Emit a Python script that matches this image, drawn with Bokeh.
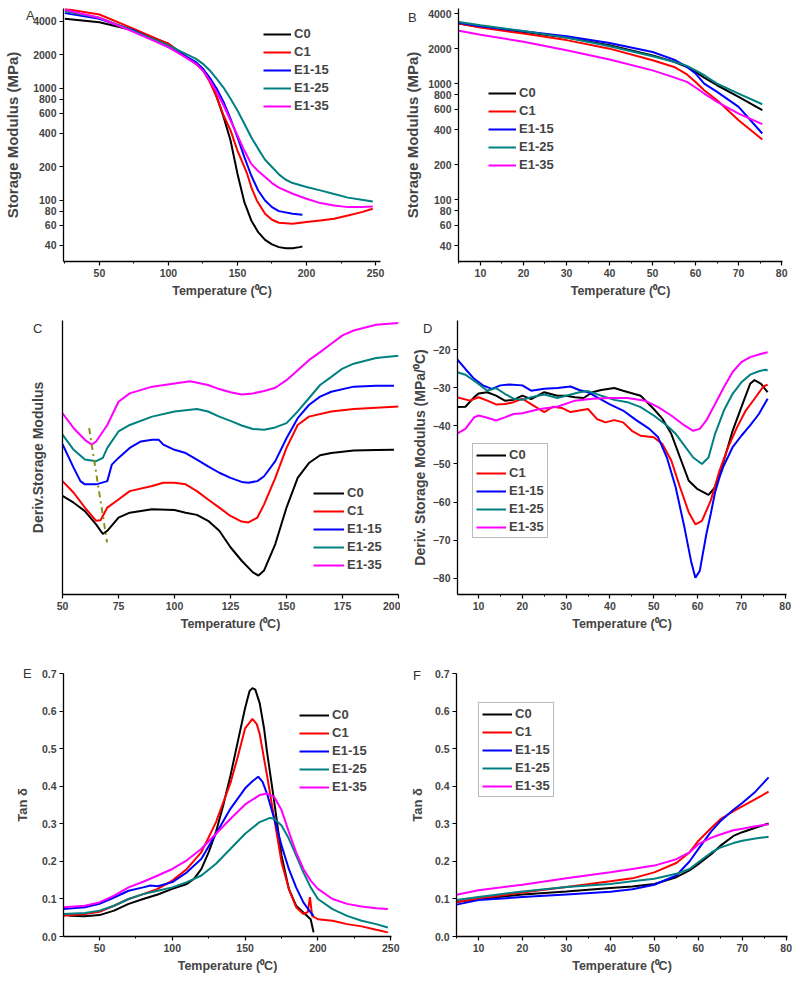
from bokeh.plotting import figure
from bokeh.layouts import column, row
from bokeh.models import (FixedTicker, SingleIntervalTicker, BasicTickFormatter,
                          PrintfTickFormatter, Range1d)
from bokeh.embed import file_html
from bokeh.resources import INLINE

FONT = "Liberation Sans"
series = ["C0", "C1", "E1-15", "E1-25", "E1-35"]
colors = ["#000000", "#ff0000", "#0000ff", "#008080", "#ff00ff"]
xlabel = "Temperature (\u2070C)"

# ---------------- Panel A : storage modulus, full range ----------------
A_C0_T = [25, 50, 75, 100, 110, 120, 125, 130, 135, 140, 145, 150, 155, 160, 165, 170, 175, 180, 185, 190, 195, 197]
A_C0_E = [4190, 3910, 3300, 2510, 2040, 1660, 1500, 1180, 837, 555, 343, 173, 96.6, 66.3, 52.1, 44.5, 40.5, 38.3, 37.5, 37.5, 38.3, 38.8]
A_C1_T = [25, 50, 75, 100, 110, 120, 125, 130, 135, 140, 145, 150, 155, 157, 160, 164, 170, 175, 180, 190, 200, 210, 220, 230, 240, 248]
A_C1_E = [5140, 4580, 3410, 2506, 2040, 1660, 1448, 1140, 837, 574, 422, 279, 199, 173, 131.6, 100, 76.1, 67.2, 63.2, 61.9, 64.1, 66.3, 68.6, 73.5, 78.7, 84.4]
A_E15_T = [25, 50, 75, 100, 110, 120, 125, 130, 135, 140, 145, 150, 155, 160, 165, 170, 175, 180, 190, 197]
A_E15_E = [4710, 4190, 3296, 2340, 2014, 1719, 1500, 1245, 993, 755, 536, 367, 244, 167, 122.8, 100, 87.2, 80.3, 76.1, 74.5]
A_E25_T = [25, 50, 75, 100, 110, 120, 125, 130, 135, 140, 145, 150, 155, 160, 165, 170, 175, 180, 185, 190, 200, 210, 220, 230, 240, 248]
A_E25_E = [4900, 4280, 3250, 2420, 2110, 1840, 1660, 1448, 1220, 1014, 809, 637, 484, 367, 289, 231, 199, 171, 153, 143, 132, 123, 114, 106, 101.4, 98]
A_E35_T = [25, 50, 75, 100, 110, 120, 125, 130, 135, 140, 145, 150, 155, 160, 165, 170, 175, 180, 190, 200, 210, 220, 230, 240, 248]
A_E35_E = [5040, 4280, 3185, 2340, 1972, 1660, 1448, 1178, 927, 705, 518, 380, 279, 212, 183, 162, 143, 130, 114.7, 103.5, 94.7, 90.2, 87.2, 87.2, 88.4]

# ---------------- Panel B : storage modulus, low range ----------------
B_T = [5, 10, 20, 30, 40, 50, 55, 58, 60, 62, 65, 70, 75.5]
B_C0 = [3290, 3080, 2790, 2490, 2140, 1750, 1540, 1390, 1260, 1127, 967, 767, 589]
B_C1 = [3290, 3040, 2700, 2370, 2000, 1590, 1390, 1200, 1030, 876, 718, 483, 329]
B_E15 = [3340, 3120, 2820, 2560, 2240, 1870, 1610, 1390, 1220, 1000, 847, 630, 371]
B_E25 = [3400, 3180, 2840, 2490, 2100, 1720, 1540, 1420, 1300, 1180, 1000, 820, 663]
B_E35 = [2850, 2640, 2290, 1940, 1610, 1300, 1130, 1033, 925, 820, 695, 551, 447]

# ---------------- Panel C : derivative (arbitrary units, offset) ----------------
C_C0_T = [50, 55, 60, 65, 68, 70, 75, 80, 90, 100, 105, 110, 115, 120, 125, 130, 135, 137.5, 140, 145, 150, 155, 160, 165, 170, 180, 190, 198]
C_C0_V = [35.0, 32.5, 29.4, 24.5, 20.9, 22.1, 27.0, 28.8, 30.1, 29.8, 28.8, 28.0, 25.8, 22.1, 16.0, 11.0, 6.7, 5.5, 7.4, 17.2, 30.7, 41.7, 47.2, 50.1, 50.9, 51.8, 52.0, 52.1]
C_C1_T = [50, 55, 60, 65, 67, 70, 75, 80, 90, 95, 100, 105, 110, 115, 120, 125, 130, 133, 137, 140, 145, 150, 155, 160, 170, 180, 190, 200]
C_C1_V = [40.5, 36.2, 30.7, 25.8, 26.0, 30.7, 33.7, 36.8, 38.7, 39.9, 39.9, 39.3, 36.8, 33.7, 30.7, 27.6, 25.5, 25.2, 27.0, 31.9, 41.7, 52.8, 61.3, 64.4, 66.3, 67.2, 67.7, 68.1]
C_E15_T = [50, 55, 58, 60, 65, 70, 72, 75, 80, 85, 90, 93, 95, 100, 105, 110, 115, 120, 125, 130, 133, 137, 140, 145, 150, 155, 160, 165, 170, 180, 190, 198]
C_E15_V = [54.2, 45.4, 40.5, 39.3, 39.3, 40.5, 46.6, 49.1, 52.8, 55.2, 55.8, 55.8, 54.0, 52.1, 50.9, 48.5, 46.0, 43.6, 41.7, 40.2, 39.9, 40.5, 42.3, 47.9, 56.4, 63.8, 68.7, 71.8, 73.6, 75.5, 75.8, 75.8]
C_E25_T = [50, 55, 60, 65, 68, 70, 75, 80, 90, 100, 110, 115, 120, 125, 130, 135, 140, 145, 150, 155, 160, 165, 170, 175, 180, 190, 200]
C_E25_V = [57.7, 52.1, 48.5, 47.9, 49.1, 52.8, 58.9, 61.3, 64.4, 66.3, 67.2, 66.3, 64.4, 62.8, 61.1, 59.8, 59.5, 60.4, 62.0, 66.3, 71.2, 76.1, 79.1, 82.2, 84.0, 86.1, 86.9]
C_E35_T = [50, 55, 60, 63, 65, 70, 75, 80, 90, 100, 107, 115, 120, 125, 130, 135, 140, 145, 150, 155, 160, 165, 170, 175, 180, 190, 200]
C_E35_V = [65.6, 60.1, 55.8, 54.0, 55.2, 61.3, 69.9, 73.0, 75.5, 76.7, 77.5, 76.1, 74.6, 73.4, 72.6, 73.0, 73.9, 75.1, 77.9, 81.6, 85.3, 88.3, 91.4, 94.5, 96.3, 98.4, 99.1]
C_guide_T = [61.9, 69.9]
C_guide_V = [60.1, 17.8]

# ---------------- Panel D : derivative, low range ----------------
D_C0_T = [5, 7, 9, 10, 12, 14, 16, 18, 20, 22, 25, 28, 30, 32, 34, 36, 38, 41, 43, 47, 50, 52, 54, 56, 58, 60, 62.5, 64, 66, 68, 70, 72, 73, 74.5, 76]
D_C0_V = [-35.1, -35.0, -32.5, -31.5, -31.2, -32.1, -33.4, -33.2, -32.1, -33.0, -31.2, -32.1, -32.1, -32.5, -32.7, -31.2, -30.6, -30.1, -30.8, -32.1, -35.6, -38.2, -42.1, -48.3, -54.4, -56.6, -58.1, -56.1, -49.1, -41.3, -35.1, -29.0, -28.0, -29.0, -31.2]
D_C1_T = [5, 8, 10, 12, 14, 16, 18, 20, 22, 25, 27, 29, 31, 33, 35, 37, 39, 41, 43, 45, 47, 50, 52, 54, 56, 58, 59.5, 61, 63, 65, 67, 69, 71, 73, 75, 76]
D_C1_V = [-32.5, -33.4, -32.5, -33.4, -34.4, -34.3, -33.8, -32.9, -34.3, -36.4, -35.0, -35.3, -36.4, -36.0, -35.6, -38.2, -39.1, -38.5, -39.1, -41.3, -42.6, -43.0, -44.8, -49.1, -56.1, -62.7, -65.8, -64.9, -59.6, -51.8, -45.6, -40.4, -36.0, -32.9, -29.7, -29.2]
D_E15_T = [5, 7, 9, 11, 13, 15, 17, 20, 22, 25, 28, 31, 33, 35, 37, 40, 43, 46, 49, 51, 53, 55, 57, 58.5, 59.5, 60.5, 62, 63, 64, 65, 66, 68, 70, 72, 74, 76]
D_E15_V = [-22.4, -25.1, -27.7, -29.4, -30.3, -29.4, -29.2, -29.4, -30.8, -30.3, -30.1, -29.7, -30.6, -31.2, -32.5, -34.4, -36.0, -38.5, -40.8, -43.0, -48.3, -56.1, -66.6, -75.4, -79.8, -78.0, -68.4, -63.1, -57.4, -53.5, -50.4, -45.6, -42.6, -39.9, -36.9, -32.9]
D_E25_T = [5, 7, 8, 10, 12, 14, 16, 18, 20, 22, 25, 28, 30, 33, 35, 38, 41, 44, 47, 50, 53, 55, 57, 59, 61, 62.5, 64, 66, 68, 70, 72, 74, 75.5, 76]
D_E25_V = [-25.9, -26.6, -27.4, -29.0, -30.8, -30.1, -31.6, -32.9, -33.2, -32.5, -31.8, -32.7, -32.1, -31.2, -30.9, -32.1, -33.2, -33.8, -35.1, -37.3, -39.9, -42.1, -45.2, -48.3, -50.0, -48.3, -42.1, -36.0, -31.6, -28.6, -26.6, -25.7, -25.3, -25.5]
D_E35_T = [5, 7, 9, 10, 12, 14, 16, 18, 20, 24, 28, 32, 36, 40, 44, 48, 51, 54, 57, 59, 60.5, 62, 64, 66, 68, 70, 72, 74, 76]
D_E35_V = [-42.1, -40.8, -37.8, -37.3, -37.9, -38.6, -37.8, -36.9, -36.7, -35.6, -35.0, -33.4, -32.9, -32.7, -32.7, -33.4, -35.1, -37.3, -39.9, -41.3, -40.8, -38.6, -34.3, -29.9, -25.9, -23.3, -22.0, -21.3, -20.7]

# ---------------- Panel E : tan delta, full range ----------------
E_C0_T = [25, 30, 40, 50, 60, 70, 80, 90, 100, 110, 115, 120, 125, 130, 135, 140, 145, 150, 153, 155, 157, 160, 163, 165, 170, 175, 180, 185, 190, 195, 197]
E_C0_V = [0.060, 0.055, 0.054, 0.057, 0.069, 0.087, 0.100, 0.112, 0.127, 0.140, 0.154, 0.180, 0.225, 0.279, 0.350, 0.430, 0.520, 0.609, 0.654, 0.662, 0.658, 0.622, 0.555, 0.493, 0.359, 0.216, 0.127, 0.082, 0.064, 0.046, 0.011]
E_C1_T = [25, 40, 50, 60, 70, 80, 90, 100, 110, 120, 130, 140, 145, 150, 155, 158, 160, 165, 170, 175, 180, 185, 190, 193, 194.5, 196, 200, 210, 220, 230, 240, 248]
E_C1_V = [0.055, 0.060, 0.066, 0.082, 0.100, 0.113, 0.127, 0.149, 0.180, 0.225, 0.305, 0.410, 0.480, 0.555, 0.580, 0.566, 0.540, 0.430, 0.314, 0.198, 0.127, 0.078, 0.060, 0.065, 0.105, 0.055, 0.046, 0.042, 0.033, 0.027, 0.018, 0.011]
E_E15_T = [25, 40, 50, 60, 70, 80, 85, 90, 100, 110, 120, 130, 140, 150, 155, 159, 162, 165, 170, 175, 180, 185, 190, 195, 197]
E_E15_V = [0.073, 0.078, 0.087, 0.104, 0.122, 0.131, 0.136, 0.134, 0.145, 0.171, 0.207, 0.274, 0.341, 0.395, 0.414, 0.426, 0.412, 0.381, 0.314, 0.243, 0.180, 0.131, 0.091, 0.064, 0.055]
E_E25_T = [25, 40, 50, 60, 70, 80, 90, 100, 110, 120, 130, 140, 150, 160, 167, 170, 175, 180, 185, 190, 195, 200, 210, 220, 230, 240, 248]
E_E25_V = [0.060, 0.0625, 0.069, 0.082, 0.100, 0.113, 0.122, 0.131, 0.145, 0.1625, 0.194, 0.234, 0.274, 0.305, 0.316, 0.314, 0.296, 0.261, 0.216, 0.171, 0.131, 0.100, 0.073, 0.055, 0.042, 0.033, 0.024]
E_E35_T = [25, 40, 50, 60, 70, 80, 90, 100, 110, 120, 130, 140, 150, 160, 165, 170, 175, 180, 185, 190, 195, 200, 210, 220, 230, 240, 248]
E_E35_V = [0.078, 0.082, 0.091, 0.109, 0.131, 0.146, 0.1625, 0.180, 0.203, 0.234, 0.274, 0.314, 0.352, 0.377, 0.381, 0.372, 0.337, 0.279, 0.225, 0.180, 0.149, 0.127, 0.100, 0.087, 0.080, 0.075, 0.073]

# ---------------- Panel F : tan delta, low range ----------------
F_T = [5, 10, 20, 30, 40, 45, 50, 55, 58, 60, 63, 65, 68, 70, 73, 76]
F_C0 = [0.092, 0.099, 0.112, 0.120, 0.129, 0.133, 0.140, 0.158, 0.176, 0.193, 0.220, 0.2415, 0.268, 0.278, 0.290, 0.301]
F_C1 = [0.092, 0.101, 0.117, 0.132, 0.147, 0.155, 0.171, 0.196, 0.224, 0.2547, 0.290, 0.312, 0.334, 0.347, 0.366, 0.386]
F_E15 = [0.085, 0.097, 0.105, 0.112, 0.119, 0.126, 0.138, 0.1625, 0.200, 0.233, 0.281, 0.307, 0.338, 0.356, 0.386, 0.424]
F_E25 = [0.097, 0.105, 0.120, 0.132, 0.140, 0.147, 0.154, 0.167, 0.180, 0.198, 0.224, 0.237, 0.249, 0.255, 0.261, 0.266]
F_E35 = [0.1115, 0.123, 0.138, 0.155, 0.171, 0.180, 0.189, 0.206, 0.224, 0.246, 0.2635, 0.272, 0.283, 0.287, 0.294, 0.299]

log_ticks = [40, 60, 80, 100, 200, 400, 600, 800, 1000, 2000, 4000]
tan_ticks = [0.0, 0.1, 0.2, 0.3, 0.4, 0.5, 0.6, 0.7]
d_ticks = [-80, -70, -60, -50, -40, -30, -20]


def make_fig(w, h, xr, yr, bl, br, bt, bb, ylog=False):
    p = figure(width=w, height=h, x_range=Range1d(*xr), y_range=Range1d(*yr),
               y_axis_type="log" if ylog else "linear",
               output_backend="svg", toolbar_location=None,
               min_border_left=bl, min_border_right=br,
               min_border_top=bt, min_border_bottom=bb)
    p.outline_line_color = None
    p.xgrid.visible = False
    p.ygrid.visible = False
    for ax in (p.xaxis[0], p.yaxis[0]):
        ax.axis_line_width = 1.3
        ax.major_tick_in = 0
        ax.major_tick_out = 4
        ax.minor_tick_in = 0
        ax.minor_tick_out = 2
        ax.major_tick_line_width = 1.2
        ax.major_label_text_font = FONT
        ax.major_label_text_font_style = "bold"
        ax.major_label_text_font_size = "10.5px"
        ax.major_label_standoff = 3
        ax.axis_label_text_font = FONT
        ax.axis_label_text_font_style = "bold"
    p.xaxis[0].axis_label = xlabel
    p.xaxis[0].axis_label_text_font_size = "12.5px"
    p.xaxis[0].axis_label_standoff = 4
    return p


def add_lines(p, xs, ys):
    for x, y, c, n in zip(xs, ys, colors, series):
        p.line(x, y, line_color=c, line_width=2, legend_label=n)


def style_legend(p, loc, border, glyph_w=28, pad=4):
    lg = p.legend[0]
    lg.location = loc
    lg.label_text_font = FONT
    lg.label_text_font_style = "bold"
    lg.label_text_font_size = "13px"
    lg.label_height = 14
    lg.glyph_height = 14
    lg.glyph_width = glyph_w
    lg.spacing = 3
    lg.padding = pad
    lg.margin = 0
    lg.label_standoff = 3
    if border:
        lg.border_line_color = "#777777"
        lg.border_line_width = 1
        lg.background_fill_color = "white"
    else:
        lg.border_line_color = None
        lg.background_fill_alpha = 0


def letter(p, txt, offset, standoff):
    t = p.title
    t.text = txt
    t.align = "left"
    t.offset = offset
    t.standoff = standoff
    t.text_font = FONT
    t.text_font_style = "normal"
    t.text_font_size = "13px"
    t.text_color = "#333333"


# Panel A
pA = make_fig(400, 303, (24, 253.6), (28.5, 5180), 63, 20, 8, 42, ylog=True)
add_lines(pA, [A_C0_T, A_C1_T, A_E15_T, A_E25_T, A_E35_T], [A_C0_E, A_C1_E, A_E15_E, A_E25_E, A_E35_E])
pA.xaxis[0].ticker = SingleIntervalTicker(interval=50, num_minor_ticks=2)
pA.yaxis[0].ticker = FixedTicker(ticks=log_ticks, minor_ticks=[])
pA.yaxis[0].formatter = BasicTickFormatter(use_scientific=False)
pA.yaxis[0].axis_label = "Storage Modulus (MPa)"
pA.yaxis[0].axis_label_text_font_size = "15px"
pA.yaxis[0].axis_label_standoff = 9
style_legend(pA, (200, 148), False)
letter(pA, "A", -37.5, -28)

# Panel B
pB = make_fig(400, 303, (4.9, 80.2), (29.2, 4440), 58, 18, 8, 42, ylog=True)
add_lines(pB, [B_T] * 5, [B_C0, B_C1, B_E15, B_E25, B_E35])
pB.xaxis[0].ticker = SingleIntervalTicker(interval=10, num_minor_ticks=2)
pB.yaxis[0].ticker = FixedTicker(ticks=log_ticks, minor_ticks=[])
pB.yaxis[0].formatter = BasicTickFormatter(use_scientific=False)
pB.yaxis[0].axis_label = "Storage Modulus (MPa)"
pB.yaxis[0].axis_label_text_font_size = "15px"
pB.yaxis[0].axis_label_standoff = 4
style_legend(pB, (30, 89), False)
letter(pB, "B", -50.5, -32)

# Panel C
pC = make_fig(400, 332, (50, 200), (-1.5, 100), 62, 2, 17, 41)
add_lines(pC, [C_C0_T, C_C1_T, C_E15_T, C_E25_T, C_E35_T], [C_C0_V, C_C1_V, C_E15_V, C_E25_V, C_E35_V])
pC.line(C_guide_T, C_guide_V, line_color="#8c8c1a", line_width=2, line_dash="dashdot")
pC.xaxis[0].ticker = SingleIntervalTicker(interval=25, num_minor_ticks=0)
pC.yaxis[0].ticker = FixedTicker(ticks=[], minor_ticks=[])
pC.yaxis[0].axis_label = "Deriv.Storage Modulus"
pC.yaxis[0].axis_label_text_font_size = "14px"
pC.yaxis[0].axis_label_standoff = 17
style_legend(pC, (251, 22), False, glyph_w=31)
letter(pC, "C", -29.5, -30)

# Panel D
pD = make_fig(400, 332, (5.2, 80.3), (-84.2, -12.4), 57, 14, 17, 41)
add_lines(pD, [D_C0_T, D_C1_T, D_E15_T, D_E25_T, D_E35_T], [D_C0_V, D_C1_V, D_E15_V, D_E25_V, D_E35_V])
pD.xaxis[0].ticker = SingleIntervalTicker(interval=10, num_minor_ticks=2)
pD.yaxis[0].ticker = FixedTicker(ticks=d_ticks, minor_ticks=[])
pD.yaxis[0].axis_label = "Deriv. Storage Modulus (MPa/\u2070C)"
pD.yaxis[0].axis_label_text_font_size = "14px"
pD.yaxis[0].axis_label_standoff = 2
style_legend(pD, (15, 56), True, glyph_w=30, pad=3)
letter(pD, "D", -34.5, -30)

# Panel E
pE = make_fig(400, 340, (25.3, 250.5), (0, 0.701), 63, 9, 38, 39)
add_lines(pE, [E_C0_T, E_C1_T, E_E15_T, E_E25_T, E_E35_T], [E_C0_V, E_C1_V, E_E15_V, E_E25_V, E_E35_V])
pE.xaxis[0].ticker = SingleIntervalTicker(interval=50, num_minor_ticks=2)
pE.yaxis[0].ticker = FixedTicker(ticks=tan_ticks, minor_ticks=[])
pE.yaxis[0].formatter = PrintfTickFormatter(format="%.1f")
pE.yaxis[0].axis_label = "Tan \u03b4"
pE.yaxis[0].axis_label_text_font_size = "13px"
pE.yaxis[0].axis_label_standoff = 9
style_legend(pE, (236, 142), False, glyph_w=30)
letter(pE, "E", -40.5, -14)

# Panel F
pF = make_fig(400, 340, (5, 80.3), (0, 0.701), 56, 13, 38, 39)
add_lines(pF, [F_T] * 5, [F_C0, F_C1, F_E15, F_E25, F_E35])
pF.xaxis[0].ticker = SingleIntervalTicker(interval=10, num_minor_ticks=2)
pF.yaxis[0].ticker = FixedTicker(ticks=tan_ticks, minor_ticks=[])
pF.yaxis[0].formatter = PrintfTickFormatter(format="%.1f")
pF.yaxis[0].axis_label = "Tan \u03b4"
pF.yaxis[0].axis_label_text_font_size = "13px"
pF.yaxis[0].axis_label_standoff = 7
style_legend(pF, (22, 139), True, glyph_w=30, pad=3)
letter(pF, "F", -43.5, -18)

layout = column(row(pA, pB), row(pC, pD), row(pE, pF))
open("out.html", "w").write(file_html(layout, INLINE))
